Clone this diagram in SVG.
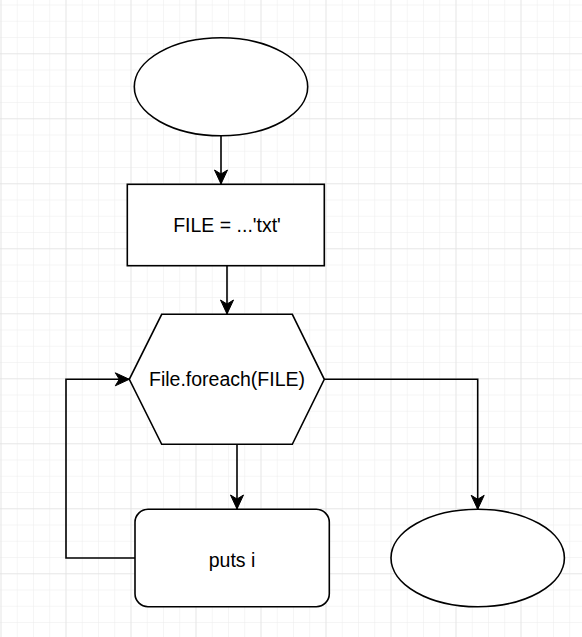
<svg xmlns="http://www.w3.org/2000/svg" width="582" height="637" viewBox="0 0 582 637">
<defs>
<pattern id="minor" x="0.5" y="4.5" width="16.25" height="16.25" patternUnits="userSpaceOnUse">
<path d="M0,0 H16.25 M0,0 V16.25" fill="none" stroke="#ececec" stroke-width="1"/>
</pattern>
<pattern id="major" x="0.5" y="-11.7" width="65" height="65" patternUnits="userSpaceOnUse">
<path d="M0,0 H65 M0,0 V65" fill="none" stroke="#dcdcdc" stroke-width="1"/>
</pattern>
<marker id="arrow" markerUnits="userSpaceOnUse" markerWidth="20" markerHeight="20" viewBox="-16 -10 20 20" refX="0" refY="0" orient="auto">
<path d="M0,0 L-14,-6.5 L-10,0 L-14,6.5 Z" fill="#000" stroke="#000" stroke-width="1"/>
</marker>
</defs>
<style>
.shape{fill:#fff;stroke:#000;stroke-width:1.6}
.edge{fill:none;stroke:#000;stroke-width:1.6;marker-end:url(#arrow)}
.label{font-family:"Liberation Sans",Arial,sans-serif;font-size:19.5px;fill:#000;text-anchor:middle}
</style>
<rect width="582" height="637" fill="#fff"/>
<rect width="582" height="637" fill="url(#minor)"/>
<rect width="582" height="637" fill="url(#major)"/>
<g id="connectors">
<path class="edge" d="M221,136 V184"/>
<path class="edge" d="M227,266 V314"/>
<path class="edge" d="M237,444 V509"/>
<path class="edge" d="M135,558 H66 V379.3 H129.3"/>
<path class="edge" d="M324.3,379.3 H477.7 V509.3"/>
</g>
<g id="start">
<ellipse class="shape" cx="221" cy="86.8" rx="86.7" ry="49"/>
</g>
<g id="assign">
<rect class="shape" x="127.3" y="184.3" width="197" height="81.4"/>
<text class="label" x="227" y="232.3">FILE = ...'txt'</text>
</g>
<g id="loop">
<polygon class="shape" points="161.7,314.3 292.3,314.3 324.3,379.3 292.3,444.3 161.7,444.3 129.3,379.3"/>
<text class="label" x="227" y="386">File.foreach(FILE)</text>
</g>
<g id="puts">
<rect class="shape" x="135" y="509.3" width="194.3" height="97.4" rx="13" ry="13"/>
<text class="label" x="232" y="566.5">puts i</text>
</g>
<g id="end">
<ellipse class="shape" cx="477.7" cy="558" rx="86.7" ry="48.7"/>
</g>
</svg>
